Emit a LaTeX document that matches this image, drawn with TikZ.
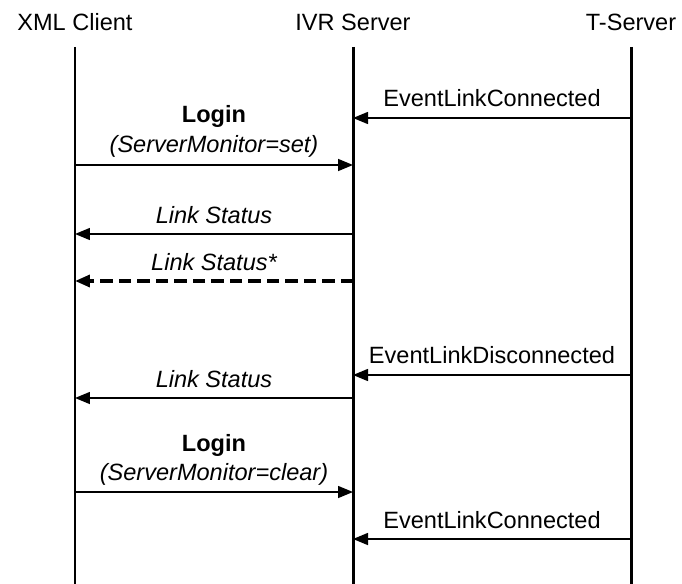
\documentclass[tikz,border=0pt]{standalone}
\usepackage{fontspec}
\setmainfont{Liberation Sans}
\usetikzlibrary{arrows.meta}

\begin{document}
\begin{tikzpicture}[x=0.02cm,y=-0.02cm,
  font=\fontsize{13.4}{16}\selectfont,
  lifeline/.style={line width=1.7pt},
  msg/.style={line width=0.85pt,-{Triangle[length=0.3cm,width=0.24cm]}},
  msgdash/.style={msg,line width=2pt,dash pattern=on 0.25cm off 0.12cm},
  lbl/.style={anchor=base,inner sep=0pt}]

\useasboundingbox (0,0) rectangle (682,584);

% headers and lifelines
\node[lbl] (xml) at (75,31) {XML Client};
\node[lbl] (ivr) at (353,31) {IVR Server};
\node[lbl] (tsrv) at (631,31) {T-Server};

\coordinate (xmltop) at (75,47);
\coordinate (xmlbot) at (75,584);
\coordinate (ivrtop) at (353,47);
\coordinate (ivrbot) at (353,584);
\coordinate (tsrvtop) at (631,47);
\coordinate (tsrvbot) at (631,584);

\draw[lifeline] (xmltop) -- (xmlbot);
\draw[lifeline] (ivrtop) -- (ivrbot);
\draw[lifeline] (tsrvtop) -- (tsrvbot);

% EventLinkConnected
\coordinate (m1a) at (631,118);
\coordinate (m1b) at (353,118);
\draw[msg] (m1a) -- (m1b);
\node[lbl] (m1lbl) at (492,107) {EventLinkConnected};

% Login (set)
\coordinate (m2a) at (75,165);
\coordinate (m2b) at (353,165);
\draw[msg] (m2a) -- (m2b);
\node[lbl] (m2lbl) at (214,123) {\bfseries Login};
\node[lbl] (m2arg) at (214,153) {\itshape (ServerMonitor=set)};

% Link Status
\coordinate (m3a) at (353,234);
\coordinate (m3b) at (75,234);
\draw[msg] (m3a) -- (m3b);
\node[lbl] (m3lbl) at (214,223) {\itshape Link Status};

% Link Status*
\coordinate (m4a) at (353,281);
\coordinate (m4b) at (75,281);
\draw[msgdash] (m4a) -- (m4b);
\node[lbl] (m4lbl) at (214,270) {\itshape Link Status*};

% EventLinkDisconnected
\coordinate (m5a) at (631,375);
\coordinate (m5b) at (353,375);
\draw[msg] (m5a) -- (m5b);
\node[lbl] (m5lbl) at (492,363) {EventLinkDisconnected};

% Link Status
\coordinate (m6a) at (353,398);
\coordinate (m6b) at (75,398);
\draw[msg] (m6a) -- (m6b);
\node[lbl] (m6lbl) at (214,387) {\itshape Link Status};

% Login (clear)
\coordinate (m7a) at (75,492);
\coordinate (m7b) at (353,492);
\draw[msg] (m7a) -- (m7b);
\node[lbl] (m7lbl) at (214,451) {\bfseries Login};
\node[lbl] (m7arg) at (214,480) {\itshape (ServerMonitor=clear)};

% EventLinkConnected
\coordinate (m8a) at (631,539);
\coordinate (m8b) at (353,539);
\draw[msg] (m8a) -- (m8b);
\node[lbl] (m8lbl) at (492,528) {EventLinkConnected};
\end{tikzpicture}
\end{document}
